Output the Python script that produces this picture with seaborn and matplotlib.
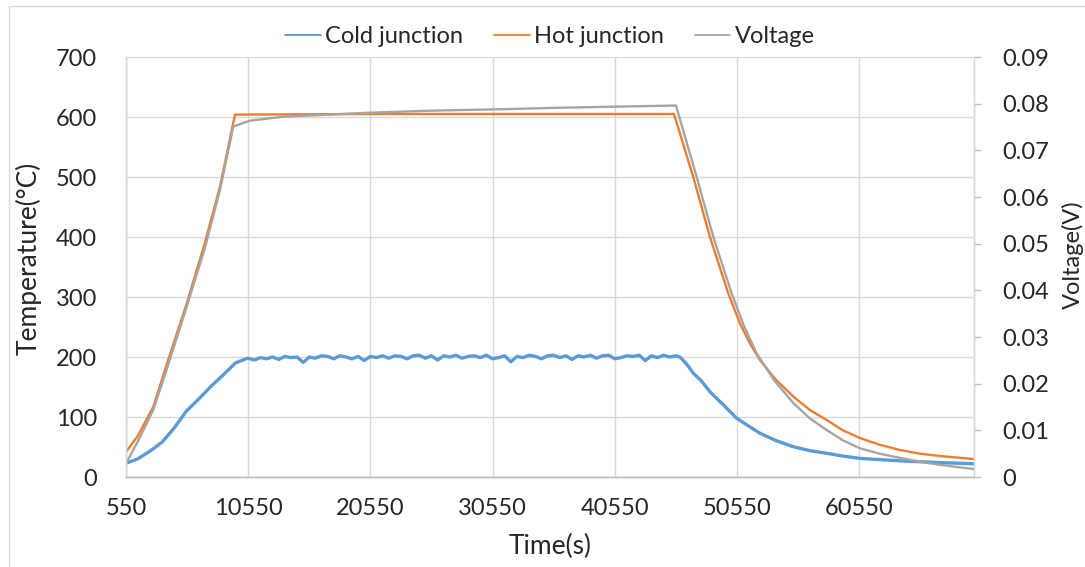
import numpy as np
import pandas as pd
import matplotlib
matplotlib.use("Agg")
import matplotlib.pyplot as plt
import seaborn as sns
from matplotlib.patches import Rectangle

# ── Data ─────────────────────────────────────────────────────
hot_t = [550, 1500, 2784, 4000, 5517, 7000, 8242, 9470, 20550, 30550, 40550,
         45395, 46975, 48340, 49840, 50795, 51600, 52430, 53700, 55160,
         56500, 57890, 59200, 60615, 62200, 63890, 65500, 67160, 69950]
hot_T = [42, 68, 117, 195, 289, 390, 484, 604, 605, 605, 605,
         605, 500, 400, 306, 256, 223, 195, 163, 134,
         112, 95, 78, 65, 54, 45, 39, 35, 30]

volt_t = [550, 1500, 2784, 4000, 5517, 7000, 8242, 9331, 10697, 13398, 17490,
          20600, 25550, 31155, 35550, 39340, 45560, 47250, 48610, 50115,
          51100, 52160, 53600, 55155, 56500, 57890, 59200, 60615, 62200,
          63890, 65500, 67160, 69950]
volt_V = [0.0029, 0.0075, 0.0144, 0.0240, 0.0365, 0.0490, 0.0615, 0.0751,
          0.07636, 0.0772, 0.0777, 0.07807, 0.0785, 0.0788, 0.0791, 0.0793,
          0.0796, 0.06435, 0.0515, 0.03936, 0.0325, 0.0265, 0.0207, 0.01586,
          0.0126, 0.01007, 0.0079, 0.00615, 0.0050, 0.0041, 0.0033, 0.0026,
          0.0017]

cold_rise_t = [550, 1500, 2500, 3500, 4500, 5500, 6500, 7500, 8500, 9500, 10500]
cold_rise_T = [23, 30, 43, 58, 82, 110, 130, 151, 170, 190, 198]
cold_plateau_t = list(range(11050, 45551, 500))
cold_plateau_T = [195, 199, 197, 200, 196, 201, 199, 200, 191, 200,
                  198, 202, 201, 197, 202, 200, 197, 201, 194, 201,
                  199, 202, 198, 202, 201, 197, 202, 203, 198, 202,
                  195, 202, 200, 203, 198, 201, 202, 199, 203, 197,
                  199, 202, 192, 201, 199, 203, 201, 197, 202, 203,
                  199, 202, 196, 202, 200, 203, 198, 202, 203, 197,
                  199, 202, 201, 203, 194, 202, 199, 203, 200, 202]
cold_fall_t = [45880, 46400, 46975, 47600, 48340, 49400, 50525, 51500, 52430,
               53700, 55155, 56500, 57890, 59200, 60615, 62200, 63890, 65500,
               67160, 69950]
cold_fall_T = [200, 189, 173, 161, 142, 121, 98, 85, 73,
               61, 50.5, 44, 39.5, 35, 31, 29, 27, 25.5,
               24, 22]

x_ticks = [550, 10550, 20550, 30550, 40550, 50550, 60550]
temp_ticks = [0, 100, 200, 300, 400, 500, 600, 700]
volt_ticks = [0, 0.01, 0.02, 0.03, 0.04, 0.05, 0.06, 0.07, 0.08, 0.09]

C_COLD = "#5B9BD5"
C_HOT = "#ED7D31"
C_VOLT = "#A5A5A5"
GRID = "#D9D9D9"
TXT = "#262626"

cold = pd.DataFrame({
    "t": cold_rise_t + cold_plateau_t + cold_fall_t,
    "T": cold_rise_T + cold_plateau_T + cold_fall_T,
})
hot = pd.DataFrame({"t": hot_t, "T": hot_T})
volt = pd.DataFrame({"t": volt_t, "V": volt_V})

# ── Style ────────────────────────────────────────────────────
sns.set_theme(style="white")
plt.rcParams["font.family"] = ["Lato", "DejaVu Sans"]

fig = plt.figure(figsize=(10.85, 5.67), dpi=100)
ax = fig.add_axes([126 / 1085, 1 - 477 / 567, 848 / 1085, 420 / 567])
ax2 = ax.twinx()

sns.lineplot(data=cold, x="t", y="T", ax=ax, color=C_COLD, lw=2.4,
             label="Cold junction", sort=False, legend=False)
sns.lineplot(data=hot, x="t", y="T", ax=ax, color=C_HOT, lw=1.7,
             label="Hot junction", sort=False, legend=False)
sns.lineplot(data=volt, x="t", y="V", ax=ax2, color=C_VOLT, lw=1.7,
             label="Voltage", sort=False, legend=False)

ax.set_xlim(550, 69950)
ax.set_ylim(0, 700)
ax2.set_ylim(0, 0.09)

ax.set_xticks(x_ticks)
ax.set_xticklabels([str(v) for v in x_ticks])
ax.set_yticks(temp_ticks)
ax.set_yticklabels([str(v) for v in temp_ticks])
ax2.set_yticks(volt_ticks)
ax2.set_yticklabels(["0"] + [f"{v:.2f}" for v in volt_ticks[1:]])

ax.grid(True, color=GRID, lw=1)
ax2.grid(False)
ax.set_axisbelow(True)

for a in (ax, ax2):
    a.spines["top"].set_visible(False)
    a.spines["left"].set_color(GRID)
    a.spines["right"].set_color(GRID)
    a.spines["bottom"].set_color("#BFBFBF")
    for s in a.spines.values():
        s.set_linewidth(1)

ax.tick_params(axis="x", length=0, pad=15, labelsize=17, colors=TXT)
ax.tick_params(axis="y", length=0, pad=21, labelsize=17, colors=TXT)
ax2.tick_params(axis="y", length=5, width=1, color="#BFBFBF", pad=15,
                labelsize=17, labelcolor=TXT)

ax.set_xlabel("Time(s)", fontsize=19, color=TXT)
ax.xaxis.set_label_coords(0.5, -0.135)
ax.set_ylabel("Temperature(°C)", fontsize=19, color=TXT)
ax.yaxis.set_label_coords(-0.099, 0.52)
ax2.set_ylabel("Voltage(V)", fontsize=17, color=TXT)
ax2.yaxis.set_label_coords(1.104, 0.53)

h1, l1 = ax.get_legend_handles_labels()
h2, l2 = ax2.get_legend_handles_labels()
leg = fig.legend(h1 + h2, l1 + l2, loc="center", bbox_to_anchor=(0.507, 0.935),
                 ncol=3, frameon=False, fontsize=17, handlelength=1.5,
                 handletextpad=0.2, columnspacing=1.3, labelcolor=TXT)
for line in leg.get_lines():
    line.set_linewidth(1.3)

# light chart-area border (Excel style)
fig.patches.append(Rectangle((9 / 1085, -0.02), 1.05, 1 - 6 / 567 + 0.02,
                             transform=fig.transFigure, fill=False,
                             edgecolor=GRID, lw=1))

fig.savefig("out.png", dpi=100)
